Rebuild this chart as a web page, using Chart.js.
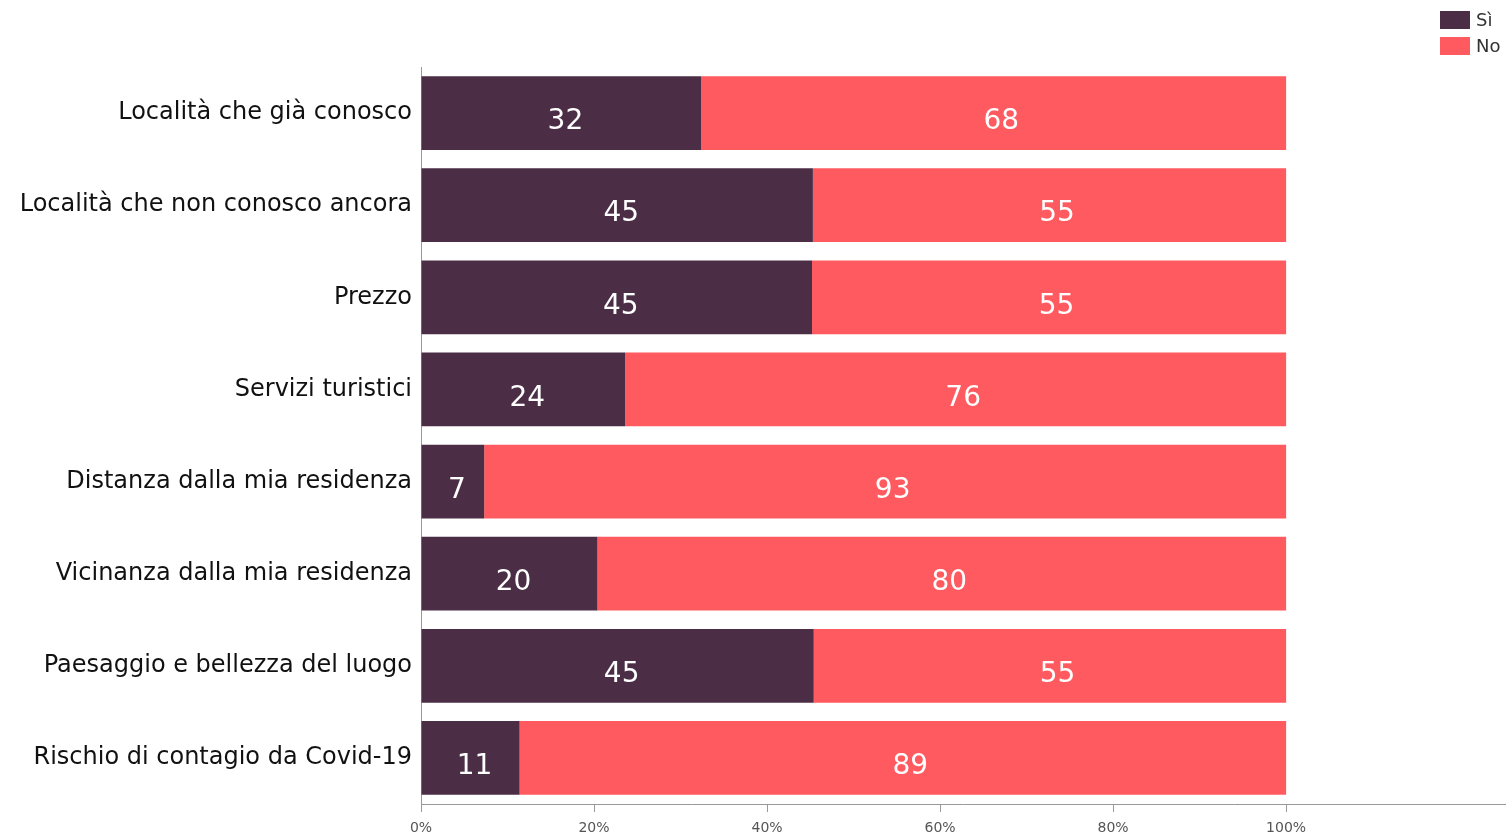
<!DOCTYPE html>
<html>
<head>
<meta charset="utf-8">
<script src="https://cdn.jsdelivr.net/npm/chart.js@4/dist/chart.umd.min.js"></script>
<style>
html,body{margin:0;padding:0;background:#fff;}
#wrap{width:1507px;height:836px;position:relative;}
</style>
</head>
<body>
<div id="wrap"><canvas id="c" width="1507" height="836"></canvas></div>
<script>
const categories = [
  "Località che già conosco",
  "Località che non conosco ancora",
  "Prezzo",
  "Servizi turistici",
  "Distanza dalla mia residenza",
  "Vicinanza dalla mia residenza",
  "Paesaggio e bellezza del luogo",
  "Rischio di contagio da Covid-19"
];
const seriesNames = ["Sì", "No"];
const siValues = [32.4, 45.3, 45.2, 23.6, 7.3, 20.4, 45.4, 11.4];
const noValues = [67.6, 54.7, 54.8, 76.4, 92.7, 79.6, 54.6, 88.6];
const siLabels = ["32", "45", "45", "24", "7", "20", "45", "11"];
const noLabels = ["68", "55", "55", "76", "93", "80", "55", "89"];
const tickValues = [0, 20, 40, 60, 80, 100];
const colors = ["#4B2E46", "#FF5A5F"];

const FONT = "'DejaVu Sans', sans-serif";

const valueLabelPlugin = {
  id: 'valueLabels',
  afterDatasetsDraw(chart) {
    const ctx = chart.ctx;
    const lbls = [siLabels, noLabels];
    const dx = [4, 7.5];
    ctx.save();
    ctx.font = "28px " + FONT;
    ctx.fillStyle = "#ffffff";
    ctx.textAlign = "center";
    ctx.textBaseline = "middle";
    chart.data.datasets.forEach((ds, di) => {
      const meta = chart.getDatasetMeta(di);
      meta.data.forEach((bar, i) => {
        const x = (bar.x + bar.base) / 2 + dx[di];
        ctx.fillText(lbls[di][i], x, bar.y + 9);
      });
    });
    ctx.restore();
  }
};

const legendPlugin = {
  id: 'customLegend',
  afterDraw(chart) {
    const ctx = chart.ctx;
    ctx.save();
    ctx.font = "18px " + FONT;
    ctx.textBaseline = "middle";
    ctx.textAlign = "left";
    seriesNames.forEach((name, i) => {
      const y = 11 + i * 26;
      ctx.fillStyle = colors[i];
      ctx.fillRect(1440, y, 30, 18);
      ctx.fillStyle = "#333";
      ctx.fillText(name, 1476, y + 10);
    });
    ctx.restore();
  }
};

new Chart(document.getElementById('c'), {
  type: 'bar',
  data: {
    labels: categories,
    datasets: [
      { label: seriesNames[0], data: siValues, backgroundColor: colors[0], borderWidth: 0 },
      { label: seriesNames[1], data: noValues, backgroundColor: colors[1], borderWidth: 0 }
    ]
  },
  plugins: [valueLabelPlugin, legendPlugin],
  options: {
    indexAxis: 'y',
    responsive: false,
    animation: false,
    layout: { padding: { top: 67, right: 2, bottom: 0, left: 0 } },
    datasets: { bar: { categoryPercentage: 0.8, barPercentage: 1.0 } },
    plugins: { legend: { display: false }, tooltip: { enabled: false } },
    scales: {
      x: {
        stacked: true,
        min: 0,
        max: 125.3,
        afterBuildTicks(scale) {
          scale.ticks = tickValues.map(v => ({ value: v }));
        },
        afterFit(scale) { scale.height = 32; },
        border: { display: true, color: '#999', width: 1 },
        grid: { display: true, drawOnChartArea: false, drawTicks: true, tickLength: 8, color: '#999' },
        ticks: {
          font: { family: FONT, size: 14 },
          color: '#555',
          padding: 8,
          maxRotation: 0,
          callback: (v) => v + '%'
        }
      },
      y: {
        stacked: true,
        afterFit(scale) { scale.width = 421; },
        border: { display: true, color: '#999', width: 1 },
        grid: { display: false, drawTicks: false },
        ticks: {
          font: { family: FONT, size: 24 },
          color: '#111',
          padding: 9,
          autoSkip: false
        }
      }
    }
  }
});
</script>
</body>
</html>
